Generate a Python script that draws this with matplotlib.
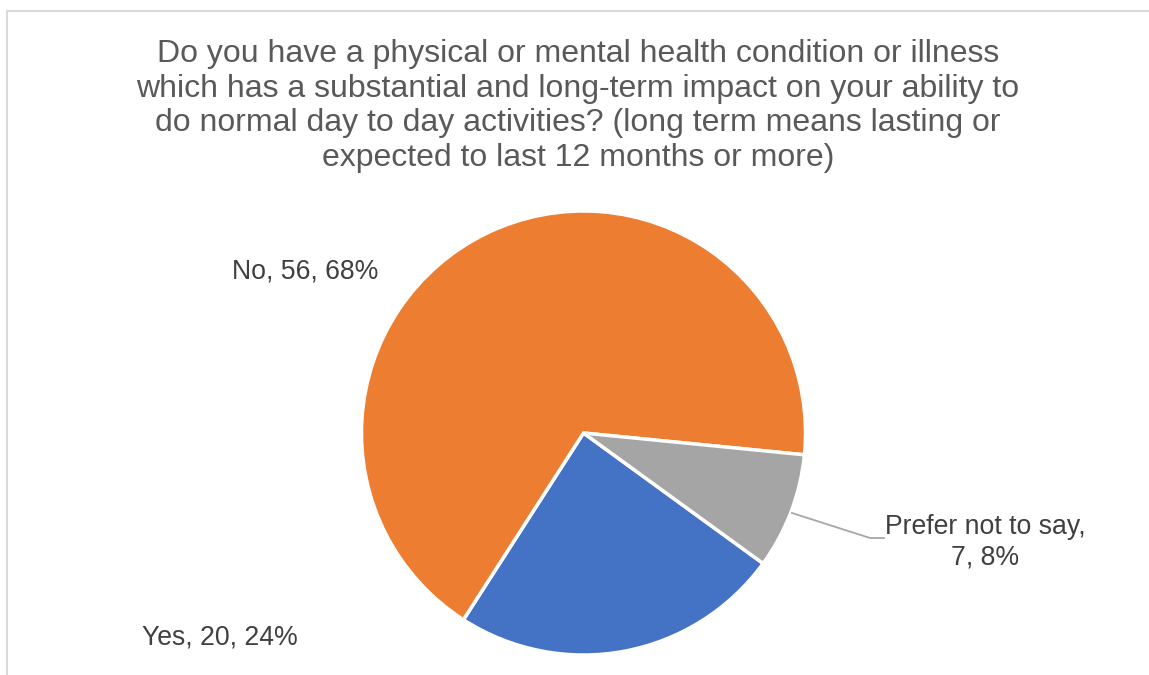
import matplotlib
matplotlib.use("Agg")
import matplotlib.pyplot as plt
from matplotlib.lines import Line2D
from matplotlib.patches import Rectangle

categories = ["Yes", "No", "Prefer not to say"]
values = [20, 56, 7]
percents = ["24%", "68%", "8%"]
colors = ["#4472C4", "#ED7D31", "#A5A5A5"]
title = ("Do you have a physical or mental health condition or illness\n"
         "which has a substantial and long-term impact on your ability to\n"
         "do normal day to day activities? (long term means lasting or\n"
         "expected to last 12 months or more)")

W, H = 1149, 675
plt.rcParams['font.family'] = ['Liberation Sans', 'DejaVu Sans']
fig = plt.figure(figsize=(W / 100, H / 100), dpi=100)
fig.patch.set_facecolor("white")

def fx(x):
    return x / W

def fy(y):
    return 1 - y / H

# chart border
fig.add_artist(Rectangle((fx(7), fy(H + 20)), fx(W + 20) - fx(7), fy(11) - fy(H + 20),
                         transform=fig.transFigure, fill=False,
                         edgecolor="#D9D9D9", lw=1.5))

cx, cy, r = 583.5, 433, 222
ax = fig.add_axes([fx(cx - r), fy(cy + r), 2 * r / W, 2 * r / H])
ax.pie(values, colors=colors, startangle=-36, counterclock=False, radius=1,
       wedgeprops=dict(edgecolor="white", linewidth=2.5))
ax.set_xlim(-1, 1)
ax.set_ylim(-1, 1)
ax.set_aspect("equal")
ax.axis("off")

fig.text(fx(578), fy(106), title, ha="center", va="center", fontsize=23,
         color="#595959", linespacing=1.21)

lab_color = "#404040"
fs = 19.2
labels = [f"{c}, {v}, {p}" for c, v, p in zip(categories, values, percents)]
fig.text(fx(220), fy(638), labels[0], ha="center", va="center", fontsize=fs, color=lab_color)
fig.text(fx(305), fy(272), labels[1], ha="center", va="center", fontsize=fs, color=lab_color)
fig.text(fx(985), fy(542), f"{categories[2]},\n{values[2]}, {percents[2]}", ha="center",
         va="center", fontsize=fs, color=lab_color, linespacing=1.2)

fig.add_artist(Line2D([fx(792), fx(870), fx(884)], [fy(513), fy(538), fy(538)],
                      transform=fig.transFigure, color="#A6A6A6", lw=1.3))

fig.savefig("out.png", dpi=100, facecolor="white")
